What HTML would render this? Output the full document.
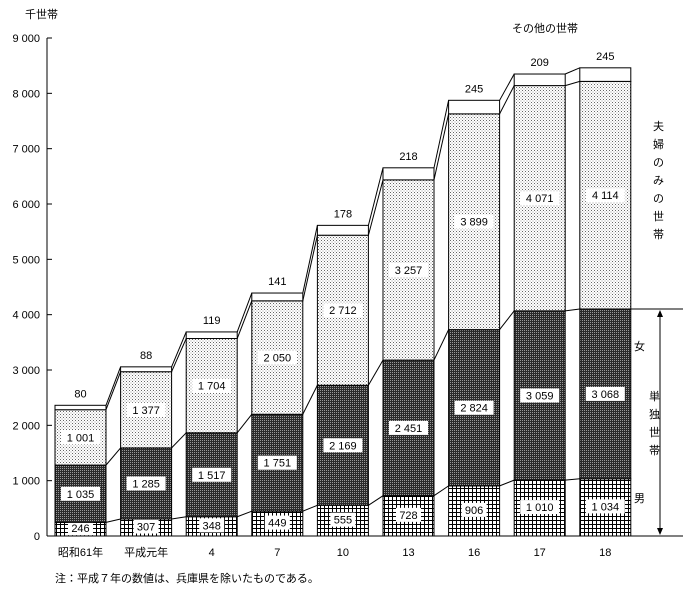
<!DOCTYPE html>
<html><head><meta charset="utf-8"><style>
body{margin:0;background:#fff;}
svg text{font-family:"Liberation Sans","Noto Sans CJK JP",sans-serif;font-size:11px;fill:#000;}
</style></head><body>
<svg width="683" height="592">
<defs>
<pattern id="pMale" width="4" height="4" patternUnits="userSpaceOnUse"><rect width="4" height="4" fill="#fff"/><path d="M0 0.5H4M0.5 0V4" stroke="#000" stroke-width="1"/></pattern>
<pattern id="pFemale" width="2" height="2" patternUnits="userSpaceOnUse"><rect width="2" height="2" fill="#2a2a2a"/><rect width="1" height="1" fill="#999"/></pattern>
<pattern id="pCouple" width="3" height="3" patternUnits="userSpaceOnUse"><rect width="3" height="3" fill="#fff"/><rect width="1" height="1" fill="#666"/><rect x="1.5" y="1.5" width="1" height="1" fill="#999"/></pattern>
</defs>
<g id="axis"></g><g id="bars"></g>
<text x="25" y="18">千世帯</text>
<text x="512" y="32">その他の世帯</text>
<text x="55" y="582">注：平成７年の数値は、兵庫県を除いたものである。</text>
<g>
<text x="653" y="130">夫</text><text x="653" y="148">婦</text><text x="653" y="166">の</text><text x="653" y="184">み</text><text x="653" y="202">の</text><text x="653" y="220">世</text><text x="653" y="238">帯</text></g>
<line x1="630" y1="309" x2="683" y2="309" stroke="#000"/>
<line x1="630" y1="536" x2="683" y2="536" stroke="#000"/>
<line x1="660" y1="312" x2="660" y2="533" stroke="#000"/>
<path d="M660 310l-3 7h6zM660 535l-3 -7h6z" fill="#000"/>
<text x="634" y="350">女</text>
<text x="634" y="502">男</text>
<g><text x="649" y="400">単</text><text x="649" y="418">独</text><text x="649" y="436">世</text><text x="649" y="454">帯</text></g>
</svg>
<script>
const categories=["昭和61年","平成元年","4","7","10","13","16","17","18"];
const male=[246,307,348,449,555,728,906,1010,1034];
const female=[1035,1285,1517,1751,2169,2451,2824,3059,3068];
const couple=[1001,1377,1704,2050,2712,3257,3899,4071,4114];
const other=[80,88,119,141,178,218,245,209,245];
const yTicks=[0,1000,2000,3000,4000,5000,6000,7000,8000,9000];
const NS="http://www.w3.org/2000/svg";
const y0=536,yPer=498/9000;
const Y=v=>y0-v*yPer;
const bx=i=>55+i*65.6, bw=51;
function el(t,a,p){const e=document.createElementNS(NS,t);for(const k in a)e.setAttribute(k,a[k]);p.appendChild(e);return e;}
const ax=document.getElementById('axis'),bg=document.getElementById('bars');
const fmt=v=>{const s=String(v);return s.length>3?s.slice(0,-3)+" "+s.slice(-3):s;};
let l=el('line',{x1:47,y1:38,x2:47,y2:536,stroke:'#000'},ax);

l=el('line',{x1:47,y1:536,x2:640,y2:536,stroke:'#000'},ax);

yTicks.forEach(t=>{
 el('line',{x1:47,y1:Y(t),x2:52,y2:Y(t),stroke:'#000'},ax);
 const tx=el('text',{x:40,y:Y(t)+4,'text-anchor':'end'},ax);tx.textContent=fmt(t);
 
});
const series=[male,female,couple,other],fills=['url(#pMale)','url(#pFemale)','url(#pCouple)','#fff'];
const names=['male','female','couple','other'];
categories.forEach((c,i)=>{
 let cum=0;
 series.forEach((s,k)=>{
  const a=cum,b=cum+s[i];cum=b;
  const r=el('rect',{x:bx(i),y:Y(b),width:bw,height:Y(a)-Y(b),fill:fills[k],stroke:'#000'},bg);
  
  if(i<categories.length-1){
   let n=0;for(let q=0;q<=k;q++)n+=series[q][i+1];
   el('line',{x1:bx(i)+bw,y1:Y(b),x2:bx(i+1),y2:Y(n),stroke:'#000'},bg);
  }
  const cx=bx(i)+bw/2;
  if(k<3){
   const txt=fmt(s[i]);const w=txt.length*7+4;
   const cy=k==0?Y(a+s[i]/2)+3:Y(a+s[i]/2)+4;
   el('rect',{x:cx-w/2,y:cy-11,width:w,height:14,fill:'#fff'},bg);
   const t=el('text',{x:cx,y:cy,'text-anchor':'middle'},bg);t.textContent=txt;
   
  } else {
   const t=el('text',{x:cx,y:Y(b)-8,'text-anchor':'middle'},bg);t.textContent=fmt(s[i]);
   
  }
 });
 const t=el('text',{x:bx(i)+bw/2,y:556,'text-anchor':'middle'},bg);t.textContent=c;
 
});
</script>
</body></html>
